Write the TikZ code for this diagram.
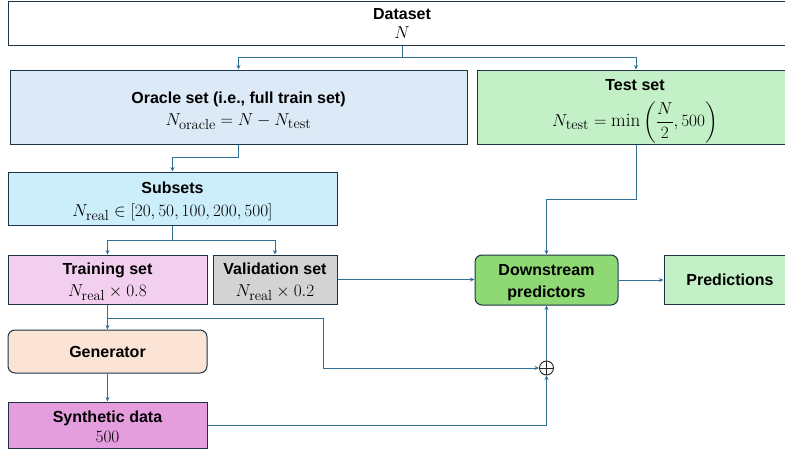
\documentclass[tikz,border=0pt]{standalone}
\usepackage{amsmath}
\usepackage{fontspec}
\setsansfont{Liberation Sans}
\usetikzlibrary{arrows.meta,calc}
\definecolor{bordc}{HTML}{1C3446}
\definecolor{linec}{HTML}{2F6F95}
\definecolor{oraclec}{HTML}{DCE9F6}
\definecolor{testc}{HTML}{C4F0C7}
\definecolor{subc}{HTML}{CCEEFB}
\definecolor{trainc}{HTML}{F2CFEE}
\definecolor{valc}{HTML}{D3D3D3}
\definecolor{downc}{HTML}{8ED973}
\definecolor{genc}{HTML}{FBE3D6}
\definecolor{sync}{HTML}{E59EDD}
\newcommand{\mth}[1]{{\fontsize{19}{21}\selectfont$#1$}}
\newcommand{\sbt}[1]{\text{\normalfont\fontsize{14.5}{14.5}\selectfont #1}}
\newcommand{\dn}[1]{\rule{0pt}{#1pt}}
\begin{document}
\begin{tikzpicture}[x=1pt,y=-1pt,
  box/.style={draw=bordc,line width=1pt,align=center,inner sep=1pt,font=\fontsize{16}{21}\selectfont\sffamily\bfseries},
  rbox/.style={box,rounded corners=7pt},
  arr/.style={draw=linec,line width=0.9pt,-{Stealth[length=4.5pt,width=4pt]}},
  ln/.style={draw=linec,line width=0.9pt}]
\useasboundingbox (0,0) rectangle (785,450);
\begin{scope}
\clip (0,0) rectangle (785,450);
\node[box,fill=white,minimum width=788pt,minimum height=44pt] (dataset) at (402,23)
  {Dataset\\[-2pt] \mth{N}};
\node[box,fill=oraclec,minimum width=457pt,minimum height=74pt] (oracle) at (238.5,107)
  {\dn{20}Oracle set (i.e., full train set)\\[1pt] \mth{N_{\sbt{oracle}} = N - N_{\sbt{test}}}};
\node[box,fill=testc,minimum width=316pt,minimum height=74pt] (test) at (635,107)
  {\dn{19}Test set\\[10pt] \mth{N_{\sbt{test}} = \min\left(\dfrac{N}{2}, 500\right)}};
\node[box,fill=subc,minimum width=329pt,minimum height=53pt] (subsets) at (172.5,198.5)
  {\dn{17}Subsets\\[2pt] \mth{N_{\sbt{real}} \in [20, 50, 100, 200, 500]}};
\node[box,fill=trainc,minimum width=199pt,minimum height=49pt] (training) at (107.5,279.5)
  {\dn{17}Training set\\[1pt] \mth{N_{\sbt{real}} \times 0.8}};
\node[box,fill=valc,minimum width=124pt,minimum height=49pt] (validation) at (275,279.5)
  {\dn{17}Validation set\\[1pt] \mth{N_{\sbt{real}} \times 0.2}};
\node[rbox,fill=downc,minimum width=143pt,minimum height=50pt] (down) at (546.5,280)
  {\dn{17}Downstream\\[1pt] predictors};
\node[box,fill=testc,minimum width=132pt,minimum height=49pt] (pred) at (730,279.5)
  {Predictions};
\node[rbox,fill=genc,minimum width=199pt,minimum height=43pt] (gen) at (107.5,351.5)
  {Generator};
\node[box,fill=sync,minimum width=199pt,minimum height=46pt] (syn) at (107.5,425)
  {\dn{14}Synthetic data\\[-1pt] \mth{500}};
\node[circle,draw=black!85,line width=0.9pt,minimum size=14pt,inner sep=0pt] (plus) at (546.5,368) {};
\draw[black!85,line width=0.9pt] (plus.north) -- (plus.south) (plus.west) -- (plus.east);
\end{scope}
% connectors
\draw[ln] (dataset.south) -- ++(0,12) coordinate (j1);
\draw[arr] (j1) -| (oracle.north);
\draw[arr] (j1) -| ($(test.north)+(1,0)$);
\draw[arr] (oracle.south) -- ++(0,13) -| (subsets.north);
\draw[ln] (subsets.south) -- ++(0,15) coordinate (j2);
\draw[arr] (j2) -| (training.north);
\draw[arr] (j2) -| (validation.north);
\draw[arr] (validation.east) -- (validation.east -| down.west);
\draw[arr] ($(test.south)+(1,0)$) -- ++(0,55) -| (down.north);
\draw[arr] (down.east) -- (down.east -| pred.west);
\draw[arr] (training.south) -- (gen.north);
\coordinate (b) at ($(training.south)+(0,14)$);
\draw[arr] (b) -- ++(215.5,0) |- (plus.west);
\draw[arr] (gen.south) -- (syn.north);
\draw[arr] (syn.east) -| (plus.south);
\draw[arr] (plus.north) -- (down.south);
\end{tikzpicture}
\end{document}
